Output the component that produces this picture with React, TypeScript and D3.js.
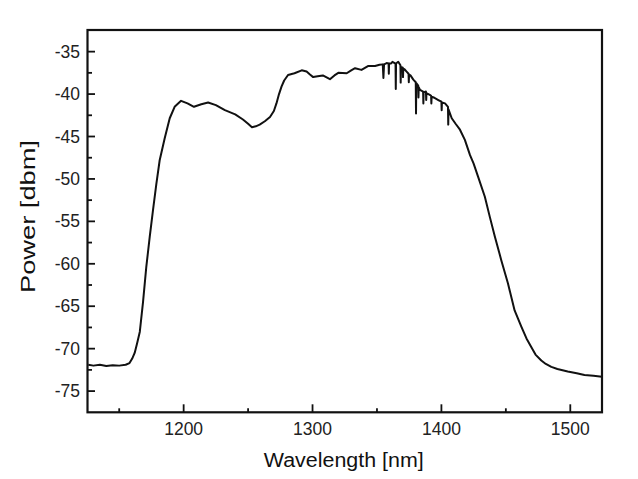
import React from "react";
import * as d3 from "d3";

const wavelength: number[] = [
  1126, 1130, 1135, 1140, 1145, 1150, 1155, 1158, 1160, 1162, 1164, 1166, 1168.5, 1171, 1173.7, 1176.2,
  1178.8, 1181.4, 1185.3, 1189.2, 1193, 1198, 1203, 1208, 1213.7, 1219, 1225, 1232, 1240, 1246, 1250,
  1253, 1256, 1259, 1263, 1267, 1270, 1272, 1274, 1276, 1278, 1281, 1286, 1291.6, 1295.4, 1298, 1300.5,
  1304, 1308, 1313.5, 1317, 1320, 1326.5, 1330, 1333, 1338, 1343, 1348.5, 1352, 1354.5, 1355, 1355.5,
  1357.5, 1359, 1359.2, 1359.4, 1361, 1362, 1364.4, 1364.6, 1364.8, 1366.5, 1368.2, 1368.4, 1368.6,
  1370, 1370.2, 1370.4, 1371.5, 1373, 1374.5, 1374.7, 1374.9, 1376, 1378.2, 1380.1, 1380.3, 1380.5,
  1382, 1382.2, 1382.4, 1383.4, 1385.8, 1386, 1386.2, 1388, 1388.2, 1388.4, 1391, 1392, 1392.2,
  1392.4, 1394, 1397.6, 1400, 1400.2, 1400.4, 1402.8, 1405.1, 1405.3, 1405.5, 1408, 1411, 1414.4,
  1418.2, 1422.2, 1425, 1428.5, 1433.7, 1437.6, 1441.5, 1446.5, 1451.6, 1456.8, 1462, 1466, 1469.7,
  1473, 1477.5, 1481, 1485.3, 1490, 1498, 1505, 1511, 1518, 1524.5,
];

const power: number[] = [
  -71.9, -72.0, -71.9, -72.05, -71.95, -72.0, -71.9, -71.7, -71.2, -70.5, -69.3, -68.0, -64.5, -60.4,
  -56.8, -53.7, -50.6, -47.8, -45.2, -42.85, -41.5, -40.8, -41.1, -41.5, -41.2, -41.0, -41.3, -41.9,
  -42.4, -43.0, -43.5, -43.9, -43.8, -43.6, -43.2, -42.7, -42.0, -41.1, -40.0, -39.1, -38.4, -37.75,
  -37.55, -37.2, -37.35, -37.7, -38.0, -37.9, -37.8, -38.25, -37.8, -37.5, -37.55, -37.2, -36.95,
  -37.15, -36.7, -36.7, -36.55, -36.5, -38.1, -36.5, -36.35, -36.4, -37.6, -36.4, -36.4, -36.2, -36.4,
  -39.4, -36.4, -36.2, -36.6, -38.65, -36.8, -36.9, -38.0, -37.0, -37.1, -37.35, -37.6, -38.6, -37.7,
  -37.8, -38.3, -38.6, -42.3, -38.7, -39.0, -40.4, -39.2, -39.5, -39.7, -41.1, -39.8, -39.7, -40.7,
  -39.9, -40.1, -40.2, -41.1, -40.3, -40.4, -40.7, -40.9, -41.9, -41.0, -41.1, -41.5, -43.6, -41.8,
  -42.85, -43.5, -44.2, -45.4, -47.2, -48.2, -49.75, -52.1, -54.5, -56.8, -59.6, -62.3, -65.5, -67.4,
  -68.8, -69.8, -70.7, -71.4, -71.8, -72.15, -72.4, -72.7, -72.9, -73.1, -73.2, -73.3,
];

const xMajorTicks: number[] = [1200, 1300, 1400, 1500];
const xMinorTicks: number[] = [1150, 1250, 1350, 1450];
const yMajorTicks: number[] = [-35, -40, -45, -50, -55, -60, -65, -70, -75];
const yMinorTicks: number[] = [-37.5, -42.5, -47.5, -52.5, -57.5, -62.5, -67.5, -72.5];

const xLabel = "Wavelength [nm]";
const yLabel = "Power [dbm]";

export default function App() {
  const left = 87.5;
  const right = 602;
  const top = 30;
  const bottom = 412.3;

  const x = d3.scaleLinear().domain([1125.4, 1524.6]).range([left, right]);
  const y = d3.scaleLinear().domain([-77.5, -32.45]).range([bottom, top]);

  const data = wavelength.map((w, i) => ({ w, p: power[i] }));
  const line = d3
    .line<{ w: number; p: number }>()
    .x((d) => x(d.w))
    .y((d) => y(d.p));

  const font = "Liberation Sans, Arial, sans-serif";

  return (
    <svg
      width={638}
      height={479}
      style={{ position: "absolute", left: 0, top: 0, background: "#fff" }}
    >
      <rect x={0} y={0} width={638} height={479} fill="#fff" />
      <defs>
        <clipPath id="plotclip">
          <rect x={left} y={top} width={right - left} height={bottom - top} />
        </clipPath>
      </defs>
      <path
        d={line(data) || ""}
        fill="none"
        stroke="#111"
        strokeWidth={2}
        strokeLinejoin="round"
        clipPath="url(#plotclip)"
      />
      {/* frame */}
      <rect
        x={left}
        y={top}
        width={right - left}
        height={bottom - top}
        fill="none"
        stroke="#111"
        strokeWidth={2.2}
      />
      {/* x ticks */}
      {xMajorTicks.map((t) => (
        <g key={"xM" + t}>
          <line x1={x(t)} x2={x(t)} y1={bottom} y2={bottom - 8} stroke="#111" strokeWidth={1.8} />
          <text
            x={x(t)}
            y={435}
            textAnchor="middle"
            fontFamily={font}
            fontSize={17.5}
            fill="#222"
          >
            {t}
          </text>
        </g>
      ))}
      {xMinorTicks.map((t) => (
        <line key={"xm" + t} x1={x(t)} x2={x(t)} y1={bottom} y2={bottom - 4} stroke="#111" strokeWidth={1.8} />
      ))}
      {/* y ticks */}
      {yMajorTicks.map((t) => (
        <g key={"yM" + t}>
          <line x1={left} x2={left + 7.5} y1={y(t)} y2={y(t)} stroke="#111" strokeWidth={1.8} />
          <text
            x={80}
            y={y(t)}
            dy="0.35em"
            textAnchor="end"
            fontFamily={font}
            fontSize={17.5}
            fill="#222"
          >
            {t}
          </text>
        </g>
      ))}
      {yMinorTicks.map((t) => (
        <line key={"ym" + t} x1={left} x2={left + 4.5} y1={y(t)} y2={y(t)} stroke="#111" strokeWidth={1.8} />
      ))}
      {/* axis labels */}
      <text
        x={(left + right) / 2 - 1}
        y={467}
        textAnchor="middle"
        fontFamily={font}
        fontSize={19.5}
        textLength={160}
        lengthAdjust="spacingAndGlyphs"
        fill="#111"
      >
        {xLabel}
      </text>
      <text
        transform={`translate(35, 216.5) rotate(-90)`}
        textAnchor="middle"
        fontFamily={font}
        fontSize={20}
        textLength={153}
        lengthAdjust="spacingAndGlyphs"
        fill="#111"
      >
        {yLabel}
      </text>
    </svg>
  );
}
